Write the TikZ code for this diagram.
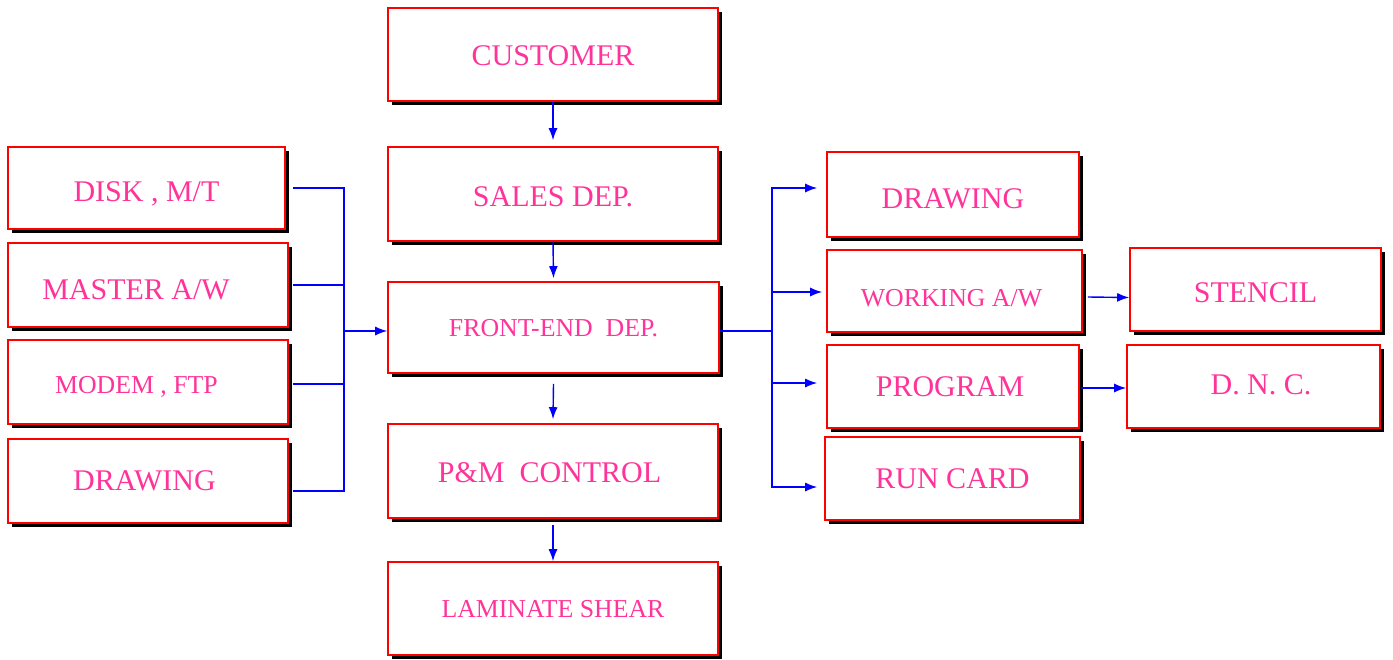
\documentclass[tikz,border=0pt]{standalone}
\usepackage{fontspec}
\setmainfont{Liberation Serif}
\usetikzlibrary{arrows.meta,shadows}
\definecolor{txtpink}{RGB}{255,51,153}
\tikzset{
  box/.style={draw=red, line width=1.6pt, fill=white, text=txtpink,
    inner sep=0pt, align=center, text depth=0pt,
    general shadow={fill=black, shadow xshift=4pt, shadow yshift=-4pt}},
  link/.style={draw=blue, line width=1.4pt},
  arr/.style={link, -{Latex[length=12pt,width=9pt]}},
  big/.style={font=\fontsize{30}{32}\selectfont, text height=19.9pt+2*#1},
  big/.default=0pt,
  mid/.style={font=\fontsize{25.8}{28}\selectfont, text height=17.1pt+2*#1},
  mid/.default=0pt,
}
\begin{document}
\begin{tikzpicture}[x=1pt,y=-1pt]
        \useasboundingbox (0,0) rectangle (1393,659);
        % Hauptkette
        \node[box,big=1.5pt,minimum width=330pt,minimum height=93pt] (cust) at (553,54.5) {CUSTOMER};
        \node[box,big=2.5pt,minimum width=330pt,minimum height=94pt] (sales) at (553,194) {SALES DEP.};
        \node[box,mid,minimum width=331pt,minimum height=91pt] (front) at (553.5,327.5) {FRONT-END\ \ DEP.};
        \node[box,big=2pt,minimum width=330pt,minimum height=94pt] (pmc) at (553,471) {P\&M\ \ CONTROL\hspace*{7pt}};
        \node[box,mid,minimum width=330pt,minimum height=93pt] (lam) at (553,608.5) {LAMINATE SHEAR};
        % Eingaben links
        \node[box,big=4pt,minimum width=277pt,minimum height=82pt] (disk) at (146.5,188) {DISK , M/T};
        \node[box,big=5pt,minimum width=280pt,minimum height=84pt] (master) at (148,285) {MASTER A/W\hspace*{24pt}};
        \node[box,mid=3pt,minimum width=280pt,minimum height=84pt] (modem) at (148,382) {MODEM , FTP\hspace*{23pt}};
        \node[box,big,minimum width=280pt,minimum height=84pt] (ldraw) at (148,481) {DRAWING\hspace*{7pt}};
        % Ausgaben rechts
        \node[box,big=4.5pt,minimum width=252pt,minimum height=85pt] (rdraw) at (953,194.5) {DRAWING};
        \node[box,mid=6.5pt,minimum width=255pt,minimum height=82pt] (work) at (954.5,291) {WORKING A/W\hspace*{6pt}};
        \node[box,big,minimum width=252pt,minimum height=83pt] (prog) at (953,386.5) {PROGRAM\hspace*{6pt}};
        \node[box,big,minimum width=255pt,minimum height=83pt] (run) at (952.5,478.5) {RUN CARD};
        \node[box,big=3.5pt,minimum width=251pt,minimum height=83pt] (sten) at (1255.5,289.5) {STENCIL};
        \node[box,big=-2pt,minimum width=253pt,minimum height=83pt] (dnc) at (1253.5,386.5) {\hspace*{15pt}D. N. C.};
        % Pfeile Hauptkette
        \draw[arr] (cust.south) -- ([yshift=6pt]sales.north);
        \draw[arr] (sales.south) -- ([yshift=3pt]front.north);
        \draw[arr] ([yshift=-10pt]front.south) -- ([yshift=4pt]pmc.north);
        \draw[arr] ([yshift=-6pt]pmc.south) -- (lam.north);
        % Sammelschiene links
        \coordinate (lj) at (344,331);
        \draw[link] ([xshift=7pt]disk.east) -| (lj);
        \draw[link] ([xshift=4pt]master.east) -| (lj);
        \draw[link] ([xshift=4pt,yshift=-2pt]modem.east) -| (lj);
        \draw[link] ([xshift=4pt,yshift=-10pt]ldraw.east) -| (lj);
        \draw[arr] (lj) -- (lj -| front.west);
        % Verteilung rechts
        \coordinate (rj) at (772,331);
        \draw[link] ([yshift=-3.5pt]front.east) -- (rj);
        \draw[arr] (rj) |- ([xshift=-9pt,yshift=6.5pt]rdraw.west);
        \draw[arr] (rj) |- ([xshift=-4pt,yshift=-1pt]work.west);
        \draw[arr] (rj) |- ([xshift=-9pt,yshift=3.5pt]prog.west);
        \draw[arr] (rj) |- ([xshift=-7pt,yshift=-8.5pt]run.west);
        \draw[arr] ([xshift=5pt,yshift=-6pt]work.east) -- ([yshift=-8pt]sten.west);
        \draw[arr] ([xshift=1pt,yshift=-1.5pt]prog.east) -- ([yshift=-1.5pt]dnc.west);
\end{tikzpicture}
\end{document}
